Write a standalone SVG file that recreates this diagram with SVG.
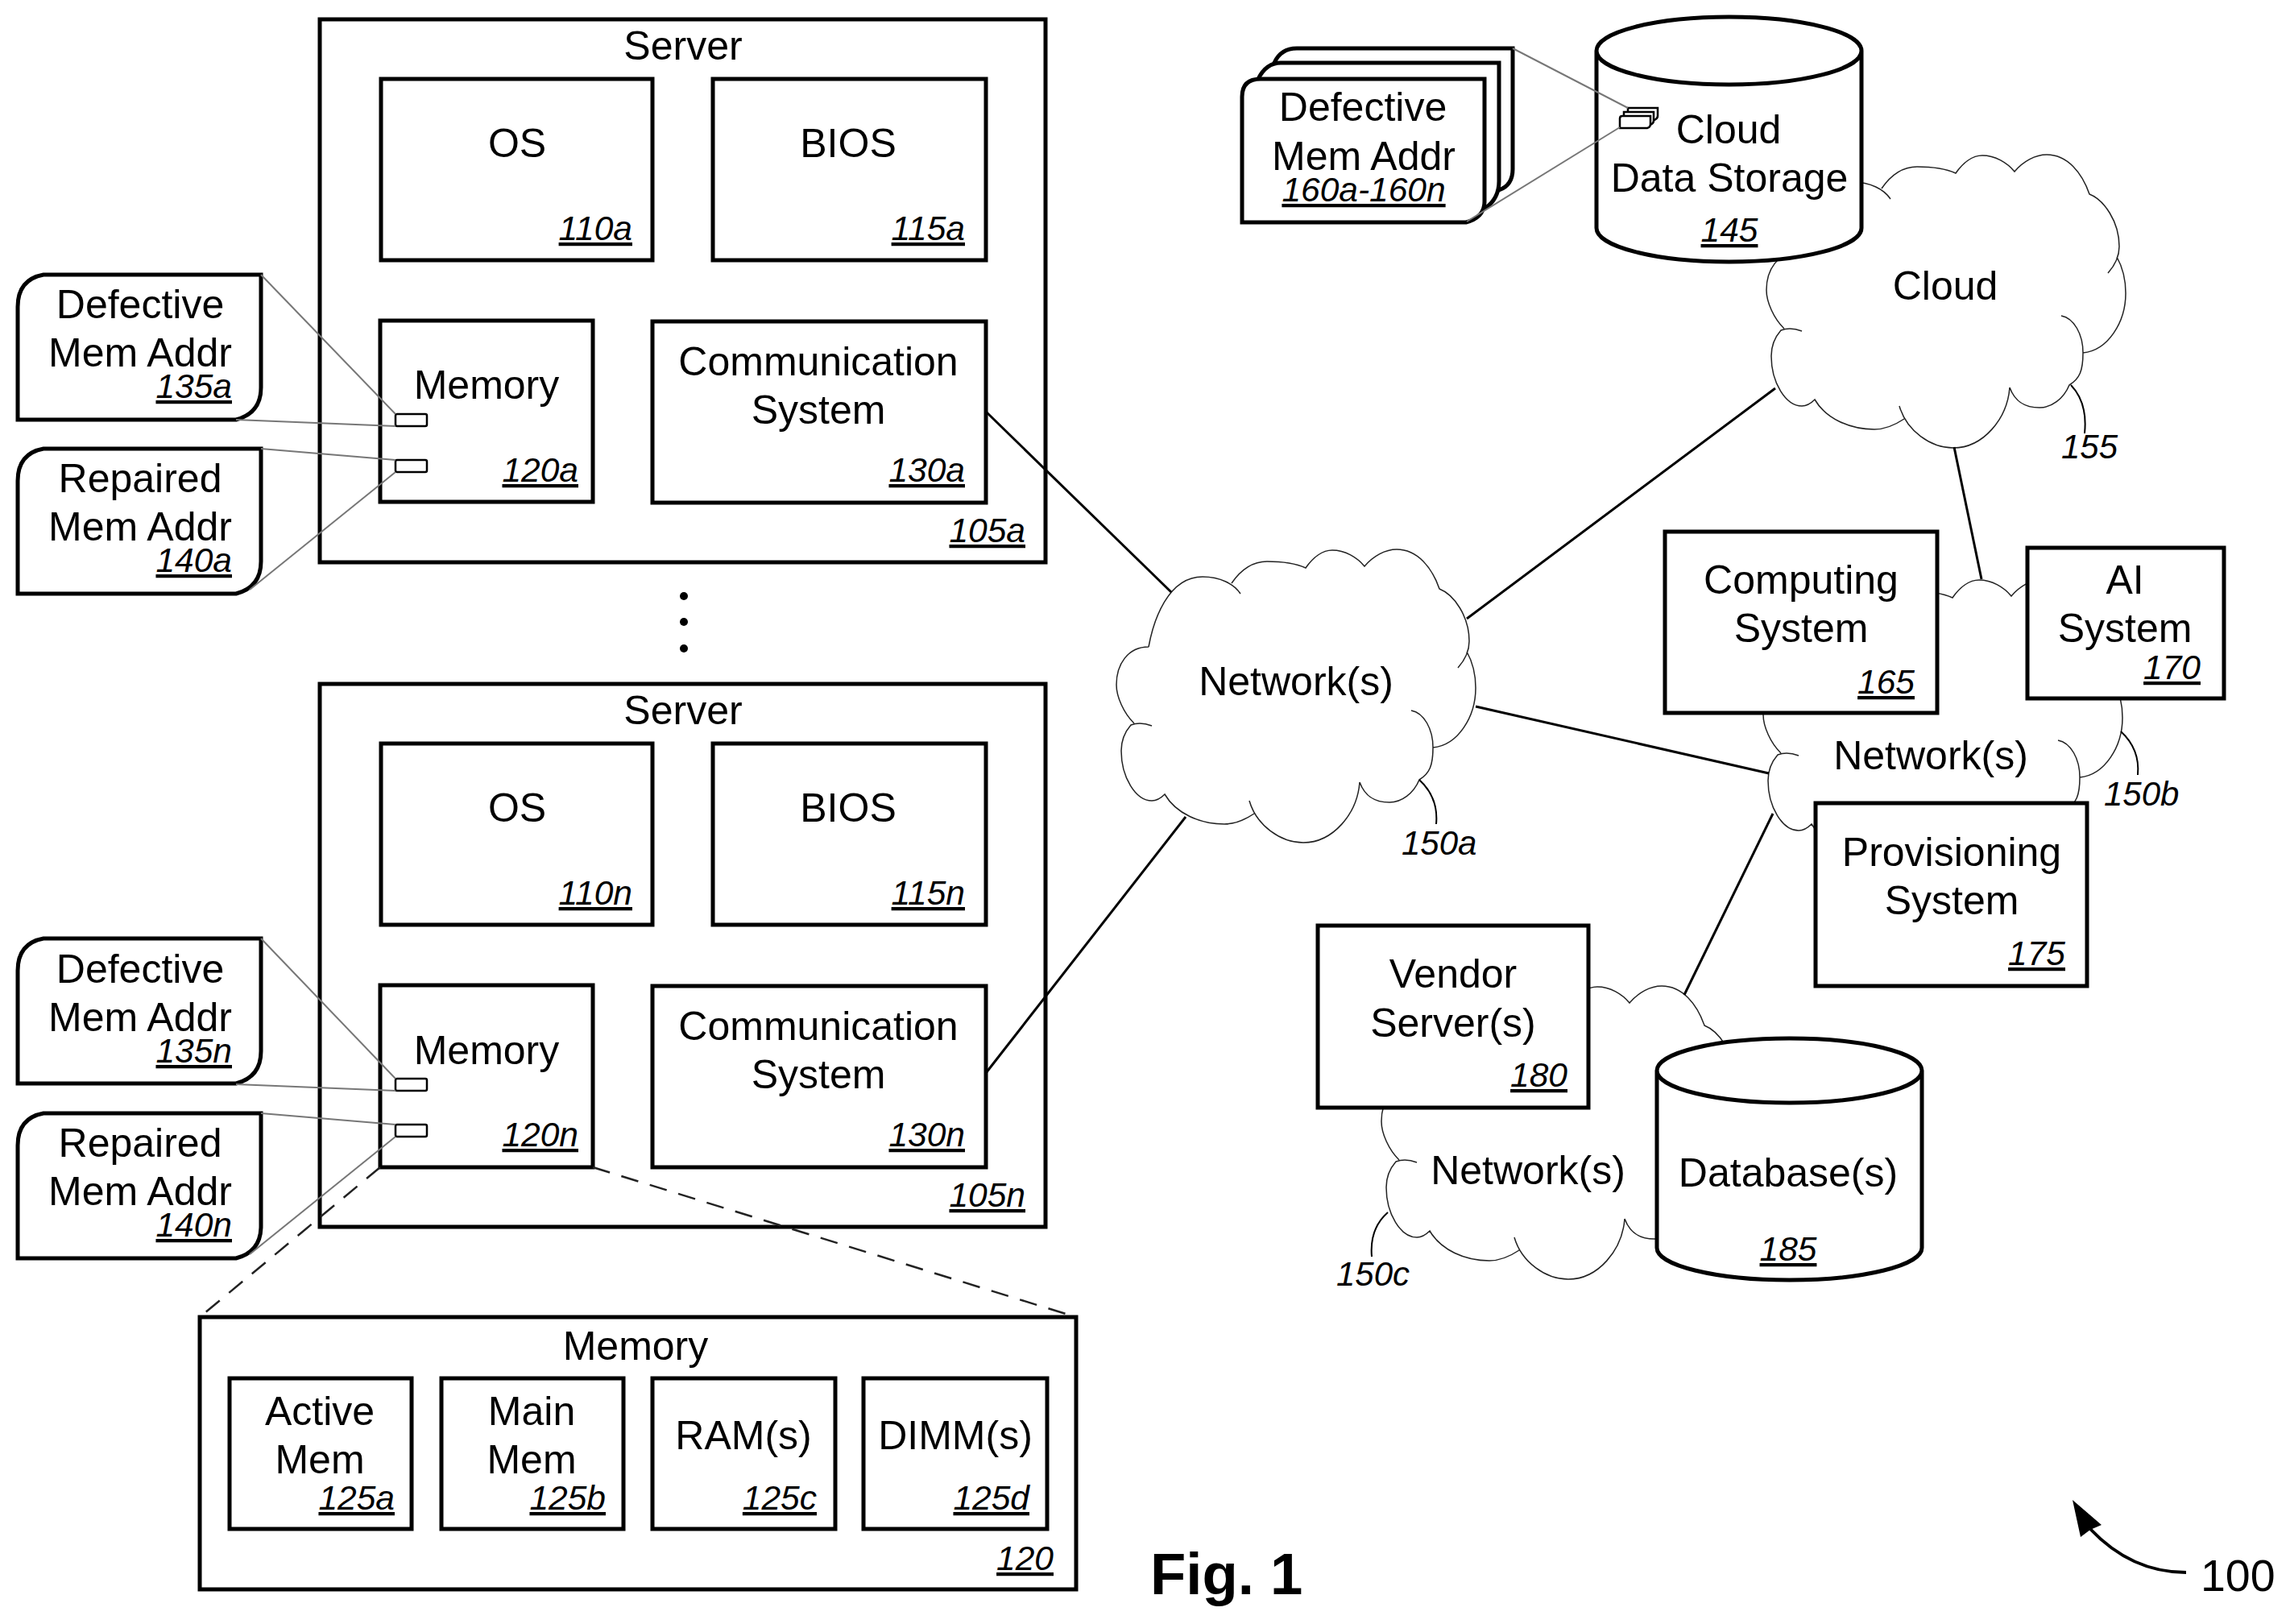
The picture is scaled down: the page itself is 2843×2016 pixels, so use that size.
<svg xmlns="http://www.w3.org/2000/svg" width="2843" height="2016" viewBox="0 0 2843 2016">
<style>
text{font-family:"Liberation Sans",Arial,sans-serif;fill:#000}
.t{font-size:50px;text-anchor:middle}
.r{font-size:42.500px;font-style:italic;text-anchor:end;text-decoration:underline}
.c{text-anchor:middle}
.l{font-size:42px;font-style:italic}
.box{fill:#fff;stroke:#000;stroke-width:5}
.cloud{fill:none;stroke:#222;stroke-width:1.500}
.wire{fill:none;stroke:#000;stroke-width:3}
.lead{fill:none;stroke:#000;stroke-width:2}
.thin{fill:none;stroke:#777;stroke-width:2}
.chip{fill:#fff;stroke:#000;stroke-width:2.500}
.dash{fill:none;stroke:#222;stroke-width:2.500;stroke-dasharray:22 15}
</style>
<defs>
<path id="cloudShape" class="cloud" d="M1426 803C1432 770 1450 716 1493 716C1515 716 1532 725 1540 737M1529 724C1540 708 1555 697 1573 697C1592 697 1610 700 1621 705C1630 692 1642 683 1654 683C1670 683 1685 692 1694 703C1705 690 1720 682 1734 682C1760 682 1778 705 1787 731C1805 738 1824 765 1824 796C1824 810 1818 820 1810 829M1821 809C1830 825 1832 840 1832 854C1832 890 1810 925 1779 928M1752 882C1768 885 1779 905 1779 928C1779 950 1775 960 1762 968C1755 985 1740 996 1725 996C1708 996 1695 990 1688 971M1688 971C1685 1010 1655 1046 1618 1046C1590 1046 1560 1025 1551 994M1557 1010C1545 1018 1532 1023 1520 1023C1490 1023 1460 1010 1446 986C1440 992 1435 994 1430 994C1410 994 1392 965 1392 932C1392 918 1397 908 1404 900C1412 897 1422 898 1430 901M1408 898C1395 885 1386 865 1386 850C1386 825 1400 803 1426 803"/>
<path id="callout" class="box" d="M54 0H324V140Q324 172 293 180H22V40Q22 6 54 0Z"/>
</defs>

<g id="clouds">
<use id="network-150a" href="#cloudShape"/>
<use id="cloud-155" href="#cloudShape" transform="translate(807,-490)"/>
<use id="network-150b" href="#cloudShape" transform="translate(803,37)"/>
<use id="network-150c" href="#cloudShape" transform="translate(329,542)"/>
</g>

<g id="server-a">
<rect class="box" x="397" y="24" width="901" height="674"/>
<text class="t" x="848" y="74">Server</text>
<text class="r" x="1273" y="673">105a</text>
<g id="os-a"><rect class="box" x="473" y="98" width="337" height="225"/><text class="t" x="642" y="195">OS</text><text class="r" x="785" y="298">110a</text></g>
<g id="bios-a"><rect class="box" x="885" y="98" width="339" height="225"/><text class="t" x="1053" y="195">BIOS</text><text class="r" x="1198" y="298">115a</text></g>
<g id="memory-a"><rect class="box" x="472" y="398" width="264" height="225"/><text class="t" x="604" y="495">Memory</text><text class="r" x="718" y="598">120a</text></g>
<g id="comm-a"><rect class="box" x="810" y="399" width="414" height="225"/><text class="t" x="1016" y="466">Communication</text><text class="t" x="1016" y="526">System</text><text class="r" x="1198" y="598">130a</text></g>
</g>
<g id="dots"><circle cx="849" cy="740" r="5"/><circle cx="849" cy="772" r="5"/><circle cx="849" cy="805" r="5"/></g>

<g id="server-n">
<rect class="box" x="397" y="849" width="901" height="674"/>
<text class="t" x="848" y="899">Server</text>
<text class="r" x="1273" y="1498">105n</text>
<g id="os-n"><rect class="box" x="473" y="923" width="337" height="225"/><text class="t" x="642" y="1020">OS</text><text class="r" x="785" y="1123">110n</text></g>
<g id="bios-n"><rect class="box" x="885" y="923" width="339" height="225"/><text class="t" x="1053" y="1020">BIOS</text><text class="r" x="1198" y="1123">115n</text></g>
<g id="memory-n"><rect class="box" x="472" y="1223" width="264" height="226"/><text class="t" x="604" y="1321">Memory</text><text class="r" x="718" y="1423">120n</text></g>
<g id="comm-n"><rect class="box" x="810" y="1224" width="414" height="225"/><text class="t" x="1016" y="1291">Communication</text><text class="t" x="1016" y="1351">System</text><text class="r" x="1198" y="1423">130n</text></g>
</g>

<g id="callouts-a">
<g id="defective-a"><use href="#callout" transform="translate(0,341)"/><text class="t" x="174" y="395">Defective</text><text class="t" x="174" y="455">Mem Addr</text><text class="r" x="288" y="494">135a</text></g>
<g id="repaired-a"><use href="#callout" transform="translate(0,557)"/><text class="t" x="174" y="611">Repaired</text><text class="t" x="174" y="671">Mem Addr</text><text class="r" x="288" y="710">140a</text></g>
<rect class="chip" x="491" y="514" width="39" height="15" rx="2"/>
<rect class="chip" x="491" y="571" width="39" height="15" rx="2"/>
<path class="thin" d="M324 341L491 514M293 521L491 529M324 557L491 571M310 732L491 586"/>
</g>
<g id="callouts-n">
<g id="defective-n"><use href="#callout" transform="translate(0,1165)"/><text class="t" x="174" y="1220">Defective</text><text class="t" x="174" y="1280">Mem Addr</text><text class="r" x="288" y="1319">135n</text></g>
<g id="repaired-n"><use href="#callout" transform="translate(0,1382)"/><text class="t" x="174" y="1436">Repaired</text><text class="t" x="174" y="1496">Mem Addr</text><text class="r" x="288" y="1535">140n</text></g>
<rect class="chip" x="491" y="1339" width="39" height="15" rx="2"/>
<rect class="chip" x="491" y="1396" width="39" height="15" rx="2"/>
<path class="thin" d="M324 1165L491 1339M293 1346L491 1354M324 1382L491 1396M310 1557L491 1411"/>
</g>

<g id="memory-detail">
<rect class="box" x="248" y="1635" width="1088" height="338"/>
<text class="t" x="789" y="1688">Memory</text>
<text class="r" x="1308" y="1949">120</text>
<g id="active-mem"><rect class="box" x="285" y="1711" width="226" height="187"/><text class="t" x="397" y="1769">Active</text><text class="t" x="397" y="1829">Mem</text><text class="r" x="490" y="1874">125a</text></g>
<g id="main-mem"><rect class="box" x="548" y="1711" width="226" height="187"/><text class="t" x="660" y="1769">Main</text><text class="t" x="660" y="1829">Mem</text><text class="r" x="752" y="1874">125b</text></g>
<g id="rams"><rect class="box" x="810" y="1711" width="227" height="187"/><text class="t" x="923" y="1799">RAM(s)</text><text class="r" x="1014" y="1874">125c</text></g>
<g id="dimms"><rect class="box" x="1072" y="1711" width="228" height="187"/><text class="t" x="1186" y="1799">DIMM(s)</text><text class="r" x="1278" y="1874">125d</text></g>
</g>

<g id="cloud-storage">
<path class="box" d="M1982 63V283A164.500 42 0 0 0 2311 283V63A164.500 42 0 0 0 1982 63A164.500 42 0 0 0 2311 63"/>
<text class="t" x="2146" y="178">Cloud</text><text class="t" x="2147" y="238">Data Storage</text><text class="r c" x="2147" y="300">145</text>
<g id="mini-stack">
<path class="chip" stroke-width="2" d="M2021 134H2058V144Q2058 147 2054 149H2021Z"/>
<path class="chip" d="M2016 139H2053V150Q2053 153 2049 155H2016Z"/>
<path class="chip" d="M2011 147Q2011 144 2014 144H2049V154Q2049 158 2045 159H2011Z"/>
</g>
</g>
<g id="defective-stack">
<path class="box" d="M1582 78Q1590 60 1610 60H1878V210Q1878 230 1861 236H1582Z"/>
<path class="box" d="M1562 98Q1572 78 1590 78H1861V225Q1861 250 1838 262H1562Z"/>
<path class="box" d="M1542 120Q1542 98 1565 98H1843V250Q1843 270 1820 276H1542Z"/>
<text class="t" x="1692" y="150">Defective</text><text class="t" x="1693" y="211">Mem Addr</text><text class="r c" x="1693" y="250">160a-160n</text>
</g>

<g id="computing-system"><rect class="box" x="2067" y="660" width="338" height="225"/><text class="t" x="2236" y="737">Computing</text><text class="t" x="2236" y="797">System</text><text class="r" x="2377" y="861">165</text></g>
<g id="ai-system"><rect class="box" x="2517" y="680" width="244" height="187"/><text class="t" x="2638" y="737">AI</text><text class="t" x="2638" y="797">System</text><text class="r" x="2732" y="843">170</text></g>
<g id="provisioning-system"><rect class="box" x="2254" y="997" width="337" height="227"/><text class="t" x="2423" y="1075">Provisioning</text><text class="t" x="2423" y="1135">System</text><text class="r" x="2564" y="1198">175</text></g>
<g id="vendor-servers"><rect class="box" x="1636" y="1149" width="336" height="226"/><text class="t" x="1804" y="1226">Vendor</text><text class="t" x="1804" y="1287">Server(s)</text><text class="r" x="1946" y="1349">180</text></g>
<g id="databases">
<path class="box" d="M2057 1329V1549A164.500 40 0 0 0 2386 1549V1329A164.500 40 0 0 0 2057 1329A164.500 40 0 0 0 2386 1329"/>
<text class="t" x="2220" y="1473">Database(s)</text><text class="r c" x="2220" y="1565">185</text>
</g>

<g id="connectors">
<path class="wire" d="M1224 511L1454 735"/>
<path class="wire" d="M1224 1332L1472 1014"/>
<path class="wire" d="M1821 768L2204 482"/>
<path class="wire" d="M1832 877L2196 960"/>
<path class="wire" d="M2426 555L2460 719"/>
<path class="wire" d="M2201 1010L2091 1235"/>
<path class="lead" d="M2571 478Q2592 500 2588 538"/>
<path class="lead" d="M1762 968Q1786 990 1783 1023"/>
<path class="lead" d="M2633 908Q2657 930 2654 962"/>
<path class="lead" d="M1723 1505Q1700 1525 1703 1560"/>
<path class="dash" d="M472 1449L248 1635"/>
<path class="dash" d="M736 1449L1336 1635"/>
<path class="thin" d="M1878 60L2021 134M1821 275L2011 158"/>
</g>

<g id="labels">
<text class="t" x="1609" y="863">Network(s)</text>
<text class="t" x="2397" y="955">Network(s)</text>
<text class="t" x="1897" y="1470">Network(s)</text>
<text class="t" x="2415" y="372">Cloud</text>
<text class="l" x="2559" y="569">155</text>
<text class="l" x="1740" y="1061">150a</text>
<text class="l" x="2612" y="1000">150b</text>
<text class="l" x="1659" y="1596">150c</text>
<text x="1428" y="1979" style="font-size:72.500px;font-weight:bold">Fig. 1</text>
<text x="2732" y="1975" style="font-size:55.500px">100</text>
</g>
<g id="ref-arrow">
<path d="M2714 1952C2670 1952 2630 1935 2595 1898" fill="none" stroke="#000" stroke-width="4"/>
<path d="M2573 1862L2609 1893L2595 1899L2583 1908Z"/>
</g>
</svg>
